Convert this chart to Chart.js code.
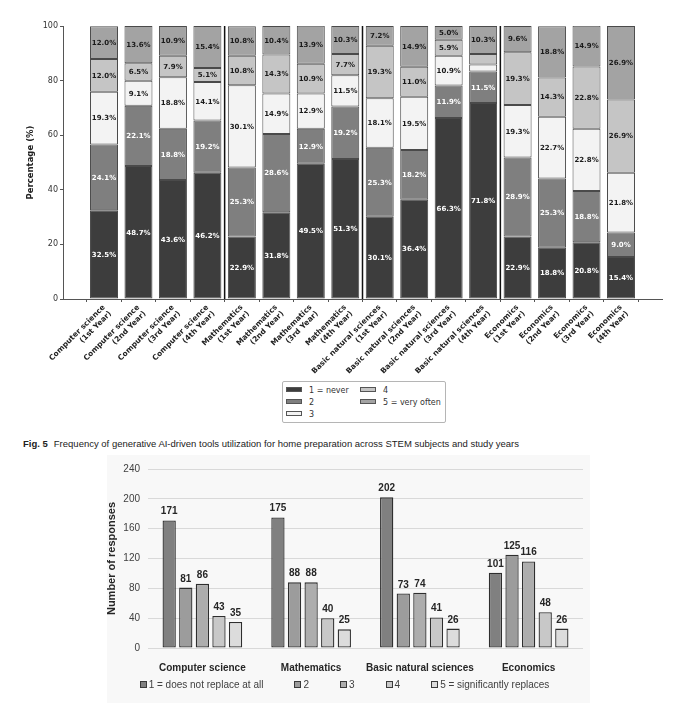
<!DOCTYPE html>
<html><head><meta charset="utf-8">
<script src="https://cdn.jsdelivr.net/npm/chart.js@4.4.1/dist/chart.umd.min.js"></script>
<style>
html,body{margin:0;padding:0;background:#fff;}
#wrap{position:relative;width:689px;height:703px;overflow:hidden;background:#fff;}
#c1{position:absolute;left:0;top:0;}
#bg2{position:absolute;left:107px;top:455px;width:483px;height:248px;background:#f8f8f8;}
#c2{position:absolute;left:0;top:455px;}
#leg1{position:absolute;left:282px;top:381px;width:164px;height:42px;border:1px solid #b5b5b5;border-radius:2px;box-sizing:border-box;background:#fff;font-family:"DejaVu Sans";font-size:8px;color:#333;}
.it1{position:absolute;height:10px;line-height:10px;white-space:nowrap;}
.sw1{display:inline-block;width:16px;height:5px;box-sizing:border-box;border:1px solid #555;vertical-align:middle;margin-right:7px;position:relative;top:-1px;}
#cap{position:absolute;left:23px;top:438px;font-family:"Liberation Sans Narrow","Liberation Sans";font-size:9.5px;color:#222;white-space:nowrap;line-height:12px;}
#cap b{margin-right:6px;}
#leg2{position:absolute;left:0;top:679px;width:689px;height:12px;display:flex;justify-content:center;gap:31px;font-family:"Liberation Sans";font-size:10px;color:#404040;line-height:12px;white-space:nowrap;}
.sq{display:inline-block;width:7px;height:7px;box-sizing:border-box;border:1px solid #3a3a3a;margin-right:2px;vertical-align:middle;position:relative;top:-1px;}
</style></head>
<body><div id="wrap">
<canvas id="c1" width="689" height="378"></canvas>
<div id="leg1"></div>
<div id="cap"><b>Fig. 5</b>Frequency of generative AI-driven tools utilization for home preparation across STEM subjects and study years</div>
<div id="bg2"></div>
<canvas id="c2" width="689" height="248"></canvas>
<div id="leg2"></div>
</div>
<script>
// ---------- Top chart data ----------
const xLabels = [
  ["Computer science","(1st Year)"],["Computer science","(2nd Year)"],["Computer science","(3rd Year)"],["Computer science","(4th Year)"],
  ["Mathematics","(1st Year)"],["Mathematics","(2nd Year)"],["Mathematics","(3rd Year)"],["Mathematics","(4th Year)"],
  ["Basic natural sciences","(1st Year)"],["Basic natural sciences","(2nd Year)"],["Basic natural sciences","(3rd Year)"],["Basic natural sciences","(4th Year)"],
  ["Economics","(1st Year)"],["Economics","(2nd Year)"],["Economics","(3rd Year)"],["Economics","(4th Year)"]
];
const never     = [32.5,48.7,43.6,46.2,22.9,31.8,49.5,51.3,30.1,36.4,66.3,71.8,22.9,18.8,20.8,15.4];
const two       = [24.1,22.1,18.8,19.2,25.3,28.6,12.9,19.2,25.3,18.2,11.9,11.5,28.9,25.3,18.8,9.0];
const three     = [19.3,9.1,18.8,14.1,30.1,14.9,12.9,11.5,18.1,19.5,10.9,2.6,19.3,22.7,22.8,21.8];
const four      = [12.0,6.5,7.9,5.1,10.8,14.3,10.9,7.7,19.3,11.0,5.9,3.8,19.3,14.3,22.8,26.9];
const veryOften = [12.0,13.6,10.9,15.4,10.8,10.4,13.9,10.3,7.2,14.9,5.0,10.3,9.6,18.8,14.9,26.9];
const freqLegend = ["1 = never","2","3","4","5 = very often"];
const yTicksTop = [0,20,40,60,80,100];

// ---------- Bottom chart data ----------
const subjects = ["Computer science","Mathematics","Basic natural sciences","Economics"];
const notReplace   = [171,175,202,101];
const repl2        = [81,88,73,125];
const repl3        = [86,88,74,116];
const repl4        = [43,40,41,48];
const signReplaces = [35,25,26,26];
const replaceLegend = ["1 = does not replace at all","2","3","4","5 = significantly replaces"];
const yTicksBottom = [0,40,80,120,160,200,240];

// ---------- styles ----------
const topSeries = [never,two,three,four,veryOften];
const topColors = ['#3d3d3d','#7f7f7f','#f3f3f3','#c5c5c5','#a3a3a3'];
const botSeries = [notReplace,repl2,repl3,repl4,signReplaces];
const botColors = ['#808080','#9c9c9c','#adadad','#c8c8c8','#dcdcdc'];

// top legend (two columns)
const leg1 = document.getElementById('leg1');
const leg1Pos = [[3,4],[3,16],[3,28],[77,4],[77,16]];
freqLegend.forEach((t,k)=>{
  const d=document.createElement('div'); d.className='it1';
  d.style.left=leg1Pos[k][0]+'px'; d.style.top=leg1Pos[k][1]+'px';
  d.innerHTML='<span class="sw1" style="background:'+topColors[k]+'"></span>';
  d.appendChild(document.createTextNode(t)); leg1.appendChild(d);
});
// bottom legend
const leg2 = document.getElementById('leg2');
replaceLegend.forEach((t,k)=>{
  const d=document.createElement('span');
  d.innerHTML='<span class="sq" style="background:'+botColors[k]+'"></span>';
  d.appendChild(document.createTextNode(t)); leg2.appendChild(d);
});

const segLabels = {id:'segLabels', afterDatasetsDraw(chart){
  const ctx=chart.ctx; ctx.save();
  ctx.font='bold 7px "DejaVu Sans"'; ctx.textAlign='center'; ctx.textBaseline='middle';
  chart.data.datasets.forEach((ds,k)=>{
    chart.getDatasetMeta(k).data.forEach((el,i)=>{
      const v=topSeries[k][i]; if(v<4.5) return;
      const p=el.getProps(['x','y','base'],true);
      ctx.fillStyle = k<2 ? '#ffffff' : '#1a1a1a';
      ctx.fillText(v.toFixed(1)+'%', p.x, (p.y+p.base)/2+0.5);
    });
  });
  ctx.restore();
}};
const groupLines = {id:'groupLines', afterDatasetsDraw(chart){
  const xs=chart.scales.x, a=chart.chartArea, ctx=chart.ctx; ctx.save();
  ctx.strokeStyle='#111'; ctx.lineWidth=1.5;
  for(let i=1;i<xLabels.length;i++){
    if(xLabels[i][0]!==xLabels[i-1][0]){
      const px=xs.getPixelForValue(i-0.5);
      ctx.beginPath(); ctx.moveTo(px,a.top); ctx.lineTo(px,a.bottom); ctx.stroke();
    }
  }
  ctx.restore();
}};

new Chart(document.getElementById('c1'), {
  type:'bar',
  data:{datasets: topSeries.map((s,k)=>({
    label:freqLegend[k], data:s.map((v,i)=>({x:i,y:v})),
    backgroundColor:topColors[k], borderColor:'#4a4a4a', borderWidth:1, borderSkipped:false,
    categoryPercentage:0.812, barPercentage:1
  }))},
  options:{
    responsive:false, animation:false, devicePixelRatio:1,
    layout:{padding:{top:26,right:27,left:0,bottom:0}},
    plugins:{legend:{display:false}, tooltip:{enabled:false}},
    scales:{
      x:{type:'linear', min:-1.19, max:16.19, stacked:true, offset:false,
        afterBuildTicks:a=>{a.ticks=xLabels.map((_,i)=>({value:i}));},
        afterFit:a=>{a.height=79;},
        ticks:{autoSkip:false, minRotation:45, maxRotation:45, padding:1, color:'#222',
          font:{family:'DejaVu Sans', size:7.5, weight:'bold'}, callback:(v)=>xLabels[v]},
        grid:{drawOnChartArea:false, drawTicks:true, tickLength:3, color:'#555'},
        border:{display:true, color:'#555'}},
      y:{min:0, max:100, stacked:true,
        afterBuildTicks:a=>{a.ticks=yTicksTop.map(v=>({value:v}));},
        afterFit:a=>{a.width=63;},
        ticks:{padding:2, color:'#333', font:{family:'DejaVu Sans', size:8}},
        grid:{drawOnChartArea:false, drawTicks:true, tickLength:3, color:'#555'},
        border:{display:true, color:'#555'},
        title:{display:true, text:'Percentage (%)', color:'#222', font:{family:'DejaVu Sans', size:8.5, weight:'bold'}, padding:{top:26,bottom:0}}}
    }
  },
  plugins:[segLabels, groupLines]
});

const valLabels = {id:'valLabels', afterDatasetsDraw(chart){
  const ctx=chart.ctx; ctx.save();
  ctx.font='bold 10px "Liberation Sans"'; ctx.textAlign='center'; ctx.textBaseline='alphabetic'; ctx.fillStyle='#262626';
  chart.data.datasets.forEach((ds,k)=>{
    chart.getDatasetMeta(k).data.forEach((el,i)=>{
      const p=el.getProps(['x','y'],true);
      ctx.fillText(String(botSeries[k][i]), p.x, p.y-6);
    });
  });
  ctx.restore();
}};

new Chart(document.getElementById('c2'), {
  type:'bar',
  data:{labels:subjects, datasets: botSeries.map((s,k)=>({
    label:replaceLegend[k], data:s, backgroundColor:botColors[k], borderColor:'#2e2e2e', borderWidth:1.3, borderSkipped:false,
    categoryPercentage:0.763, barPercentage:0.8
  }))},
  options:{
    responsive:false, animation:false, devicePixelRatio:1,
    layout:{padding:{top:14,right:106,left:100,bottom:0}},
    plugins:{legend:{display:false}, tooltip:{enabled:false}},
    scales:{
      x:{afterFit:a=>{a.height=55;}, grid:{display:false}, border:{display:false},
        ticks:{minRotation:0, maxRotation:0, autoSkip:false, padding:6, color:'#262626', font:{family:'Liberation Sans', size:10, weight:'bold'}}},
      y:{min:0, max:240,
        afterBuildTicks:a=>{a.ticks=yTicksBottom.map(v=>({value:v}));},
        afterFit:a=>{a.width=48;},
        ticks:{padding:8, color:'#404040', font:{family:'Liberation Sans', size:10}},
        grid:{color:'#d9d9d9', drawTicks:false}, border:{display:false},
        title:{display:true, text:'Number of responses', color:'#262626', font:{family:'Liberation Sans', size:11, weight:'bold'}, padding:{top:5,bottom:0}}}
    }
  },
  plugins:[valLabels]
});
</script>
</body></html>
